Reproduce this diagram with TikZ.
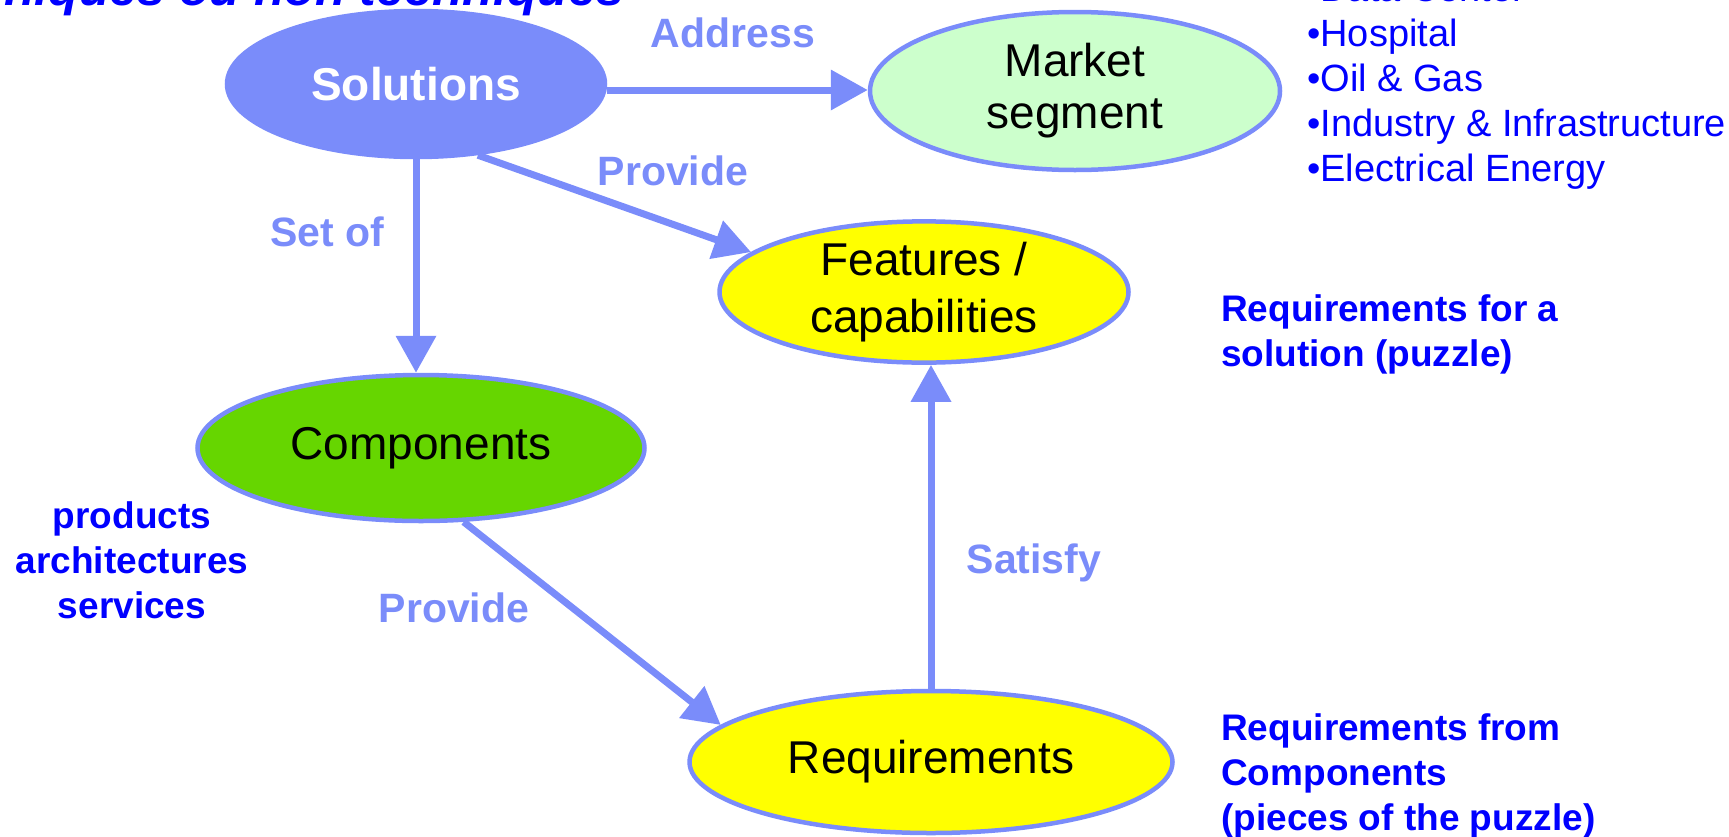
\documentclass[tikz,border=0pt]{standalone}
\usepackage{fontspec}
\setmainfont{Liberation Sans}
\usetikzlibrary{shapes.geometric,arrows.meta}
\definecolor{lb}{RGB}{122,140,250}
\definecolor{db}{RGB}{0,0,255}
\definecolor{lgreen}{RGB}{204,255,204}
\definecolor{cgreen}{RGB}{102,214,0}
\definecolor{yel}{RGB}{255,255,0}
\begin{document}
\begin{tikzpicture}[x=1pt,y=-1pt,
 ell/.style={ellipse, inner sep=0pt, draw=lb, line width=4.5pt, font=\fontsize{46}{57}\selectfont, align=center},
 conn/.style={draw=lb, line width=7pt, -{Triangle[width=39pt,length=37pt]}},
 elabel/.style={text=lb, font=\bfseries\fontsize{41}{48}\selectfont, inner sep=0pt},
 note/.style={text=db, font=\bfseries\fontsize{37}{45}\selectfont, inner sep=0pt},
 ]
\useasboundingbox (0,0) rectangle (1729,836);
\clip (0,0) rectangle (1729,836);

\node[ell, fill=lb, text=white, font=\bfseries\fontsize{46}{57}\selectfont, minimum width=378pt, minimum height=146pt] (sol) at (416,84) {Solutions};
\node[ell, fill=lgreen, font=\fontsize{46}{52}\selectfont, minimum width=410pt, minimum height=158pt] (mkt) at (1075,91) {Market\\segment};
\node[ell, fill=yel, minimum width=409pt, minimum height=135pt] (feat) at (924,292) {Features /\\capabilities};
\node[ell, fill=cgreen, minimum width=447pt, minimum height=146pt] (comp) at (421,448) {Components};
\node[ell, fill=yel, minimum width=483pt, minimum height=142pt] (req) at (931,762) {Requirements};

\draw[conn] ([yshift=-6pt]sol.east) -- ([yshift=-6pt]sol.east -| mkt.west);
\draw[conn] (sol.-49) -- (feat.167);
\draw[conn] (sol.south) -- (sol.south |- comp.north);
\draw[conn] (comp.-60) -- (req.170);
\draw[conn] (req.north) -- (req.north |- feat.south);

\node[elabel] (lAddr) at (733,33) {Address};
\node[elabel] (lProv1) at (673,171) {Provide};
\node[elabel] (lSet) at (327,232) {Set of};
\node[elabel] (lProv2) at (454,608) {Provide};
\node[elabel] (lSat) at (1034,563) {Satisfy};

\node[note, align=center] (prod) at (132,560) {products\\architectures\\services};
\node[note, align=left, anchor=west] (rq1) at (1221,334) {Requirements for a\\solution (puzzle)};
\node[note, align=left, anchor=west] (rq2) at (1221,776) {Requirements from\\Components\\(pieces of the puzzle)};
\node[text=db, font=\fontsize{38}{45}\selectfont, align=left, anchor=north west, inner sep=0pt] (seg) at (1307,-25) {•Data Center\\•Hospital\\•Oil \& Gas\\•Industry \& Infrastructure\\•Electrical Energy};
\node[text=db, font=\bfseries\itshape\fontsize{50}{60}\selectfont, anchor=base east, inner sep=0pt] (title) at (624,5) {techniques ou non techniques};
\end{tikzpicture}
\end{document}
